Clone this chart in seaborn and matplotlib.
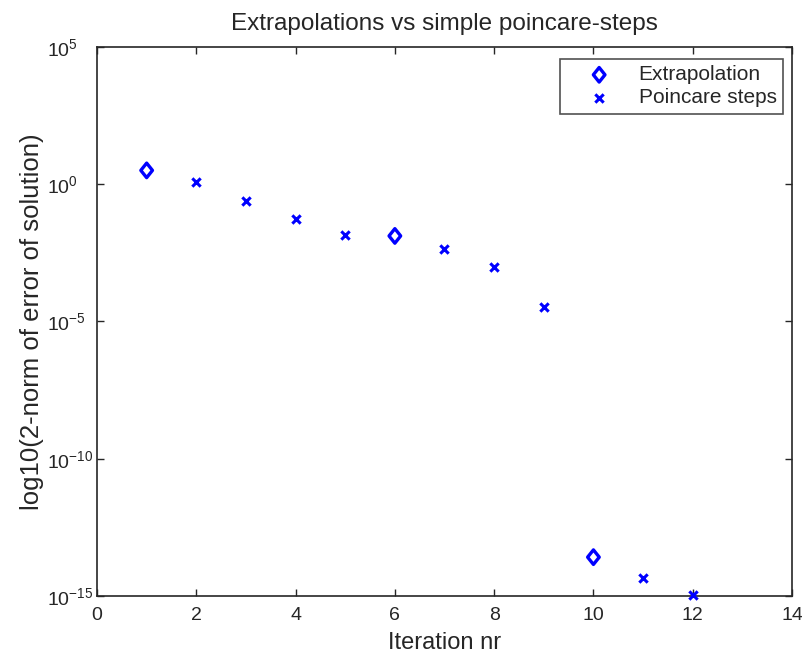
import numpy as np
import matplotlib
matplotlib.use("Agg")
import matplotlib.pyplot as plt
from matplotlib.path import Path
import seaborn as sns

# Data
extrap_iter = [1, 6, 10]
extrap_err = [3.2, 0.0131, 2.6e-14]
poinc_iter = [2, 3, 4, 5, 7, 8, 9, 11, 12]
poinc_err = [1.21, 0.24, 0.056, 0.0138, 0.0043, 0.00097, 3.4e-5, 4.4e-15, 1.07e-15]

xticks = [0, 2, 4, 6, 8, 10, 12, 14]
yticks = [1e-15, 1e-10, 1e-5, 1e0, 1e5]

sns.set_style("ticks")
plt.rcParams['font.family'] = ['Liberation Sans', 'DejaVu Sans']
plt.rcParams['mathtext.default'] = 'regular'
plt.rcParams['axes.unicode_minus'] = False

# matlab-like diamond, a bit narrower than tall
diamond = Path([(0, 1), (0.8, 0), (0, -1), (-0.8, 0), (0, 1)],
               [Path.MOVETO, Path.LINETO, Path.LINETO, Path.LINETO, Path.CLOSEPOLY])

txt = "#262626"
fig = plt.figure(figsize=(8.03, 6.57), dpi=100)
ax = fig.add_axes([97 / 803, 1 - 596 / 657, (792 - 97) / 803, (596 - 47) / 657])

sns.scatterplot(x=extrap_iter, y=extrap_err, ax=ax, marker=diamond, s=110,
                facecolor="none", edgecolor="#0000ff", linewidth=2.4,
                label="Extrapolation", clip_on=False, zorder=3)
sns.scatterplot(x=poinc_iter, y=poinc_err, ax=ax, marker="x", s=36,
                color="#0000ff", linewidth=2.2,
                label="Poincare steps", clip_on=False, zorder=3)

ax.set_yscale("log")
ax.set_xlim(0, 14)
ax.set_ylim(1e-15, 1e5)
ax.set_xticks(xticks)
ax.set_yticks(yticks)
ax.yaxis.set_minor_locator(matplotlib.ticker.NullLocator())

ax.tick_params(which="both", direction="in", top=True, right=True,
               length=5, width=1, labelsize=14, colors=txt)
ax.tick_params(axis="x", pad=8)
# matlab puts the "10" of every label in the same column
ax.tick_params(axis="y", pad=36)
for lbl in ax.get_yticklabels():
    lbl.set_horizontalalignment("left")
for sp in ax.spines.values():
    sp.set_visible(True)
    sp.set_color(txt)
    sp.set_linewidth(1.2)

ax.set_title("Extrapolations vs simple poincare-steps", fontsize=17.5, color=txt, pad=12)
ax.set_xlabel("Iteration nr", fontsize=17, color=txt, labelpad=6)
ax.set_ylabel("log10(2-norm of error of solution)", fontsize=18.5, color=txt, labelpad=2)

leg = ax.legend(loc="upper right", bbox_to_anchor=(1 - 9 / 695, 1 - 12 / 549),
                borderaxespad=0, fontsize=15, frameon=True, fancybox=False,
                handlelength=3.2, handletextpad=0.3, borderpad=0.3,
                labelspacing=0.2)
leg.get_frame().set_edgecolor(txt)
leg.get_frame().set_linewidth(1.2)
for t in leg.get_texts():
    t.set_color(txt)

fig.savefig("out.png", dpi=100, facecolor="white")
